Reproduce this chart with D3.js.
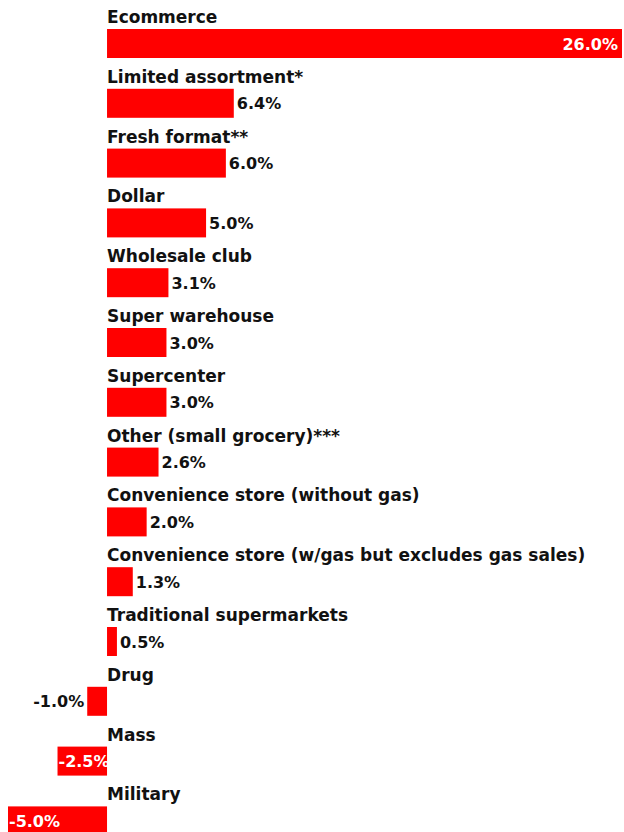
<!DOCTYPE html>
<html>
<head>
<meta charset="utf-8">
<script src="https://cdn.jsdelivr.net/npm/d3@7"></script>
<style>
  body { margin: 0; background: #fff; }
  text { font-family: "DejaVu Sans", Verdana, sans-serif; font-weight: bold; font-size: 17px; }
  text.value { font-size: 16px; }
</style>
</head>
<body>
<div id="chart-area"></div>
<script>
const categories = [
    "Ecommerce",
    "Limited assortment*",
    "Fresh format**",
    "Dollar",
    "Wholesale club",
    "Super warehouse",
    "Supercenter",
    "Other (small grocery)***",
    "Convenience store (without gas)",
    "Convenience store (w/gas but excludes gas sales)",
    "Traditional supermarkets",
    "Drug",
    "Mass",
    "Military"
];
const values = [26.0, 6.4, 6.0, 5.0, 3.1, 3.0, 3.0, 2.6, 2.0, 1.3, 0.5, -1.0, -2.5, -5.0];

const data = categories.map((c, i) => ({ name: c, value: values[i] }));

const width = 624;
const height = 832;
const rowStep = 59.8;

const svg = d3.select('#chart-area')
    .append('svg')
    .attr('width', width)
    .attr('height', height);

const x = d3.scaleLinear()
    .domain([-5, 26])
    .range([8, 622]);

const y = d3.scaleBand()
    .domain(categories)
    .range([0, rowStep * categories.length]);

const fmt = d => d3.format('.1f')(d).replace('\u2212', '-') + '%';

const row = svg.selectAll('g.row')
    .data(data)
    .enter()
    .append('g')
    .attr('class', 'row')
    .attr('transform', d => `translate(0, ${y(d.name)})`);

// category label above each bar
row.append('text')
    .attr('x', x(0))
    .attr('y', 23)
    .attr('fill', '#111')
    .text(d => d.name);

row.append('rect')
    .attr('x', d => x(Math.min(0, d.value)))
    .attr('y', 29)
    .attr('width', d => Math.abs(x(d.value) - x(0)))
    .attr('height', 29)
    .attr('fill', '#ff0000');

// value label: outside the bar unless it would run off the chart
row.append('text')
    .attr('class', 'value')
    .attr('y', 49.5)
    .each(function(d) {
        const t = d3.select(this).text(fmt(d.value));
        const w = this.getComputedTextLength();
        if (d.value >= 0) {
            const inside = x(d.value) + 3 + w > width - 2;
            if (inside) t.attr('x', x(d.value) - 4).attr('text-anchor', 'end').attr('fill', '#fff');
            else t.attr('x', x(d.value) + 3).attr('text-anchor', 'start').attr('fill', '#111');
        } else {
            const inside = x(d.value) - 3 - w < 10;
            if (inside) t.attr('x', x(d.value) + 1).attr('text-anchor', 'start').attr('fill', '#fff');
            else t.attr('x', x(d.value) - 3).attr('text-anchor', 'end').attr('fill', '#111');
        }
    });
</script>
</body>
</html>
